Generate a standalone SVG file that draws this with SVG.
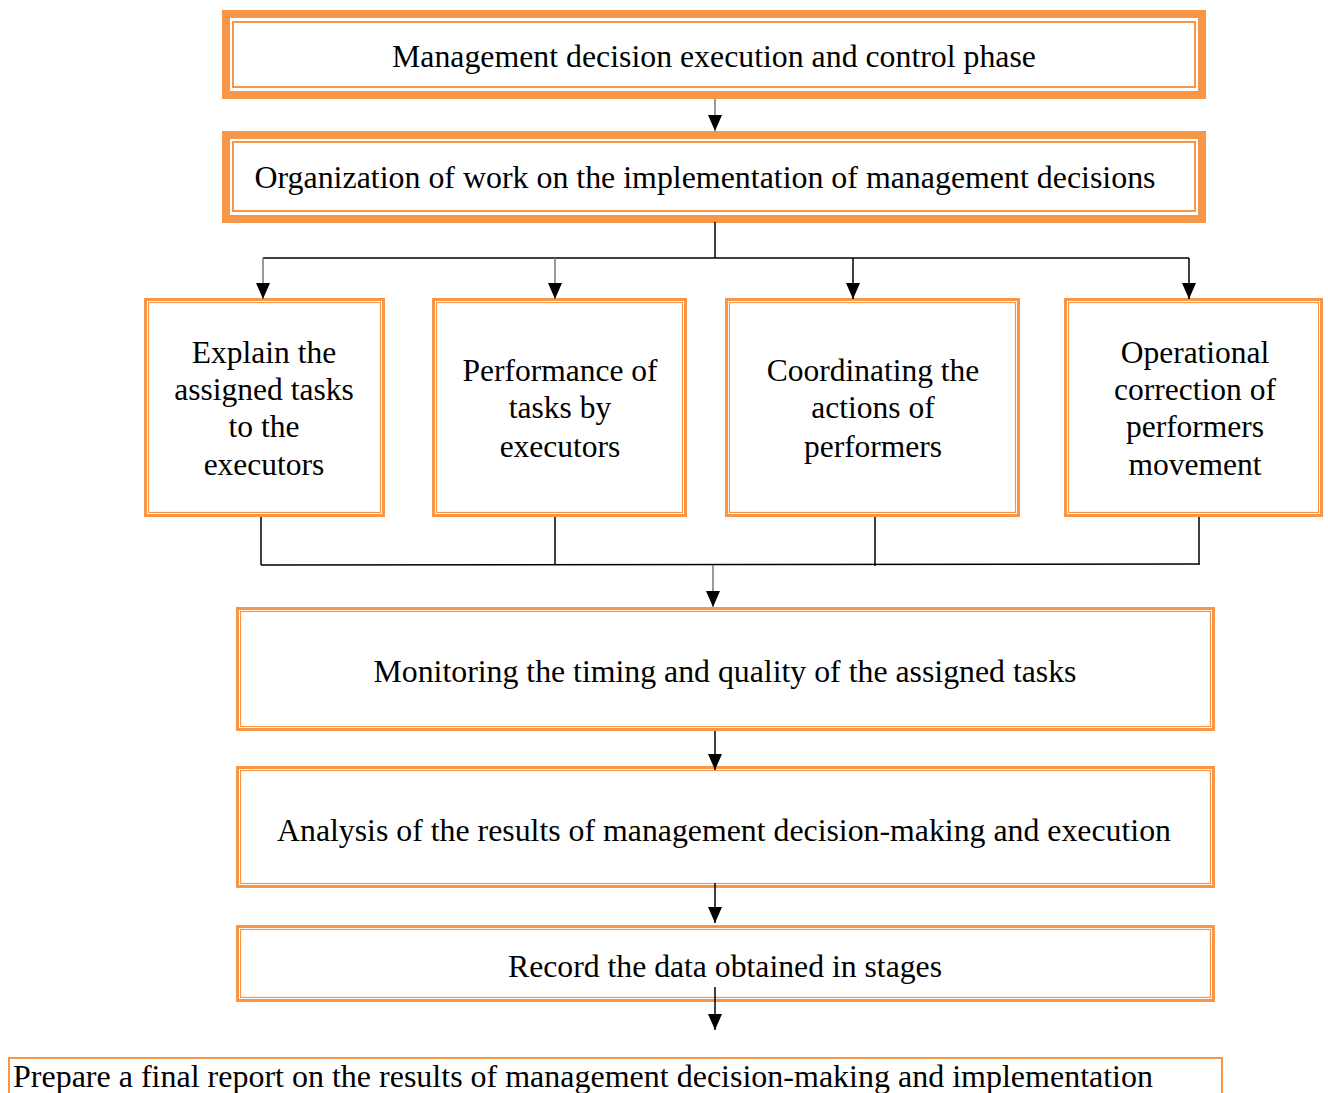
<svg xmlns="http://www.w3.org/2000/svg" width="1328" height="1093" viewBox="0 0 1328 1093">
<style>
.t{font-family:"Liberation Serif","Times New Roman",serif;font-size:31.5px;fill:#000;text-anchor:middle}
.band{fill:none;stroke:#F79646;stroke-width:8}
.thin{fill:none;stroke:#F79646;stroke-width:2}
.o3{fill:none;stroke:#F79646;stroke-width:3}
.i1{fill:none;stroke:#F79646;stroke-width:1.2}
.c{fill:none;stroke:#000;stroke-width:1.5}
.g{fill:none;stroke:#777;stroke-width:1.5}
</style>
<defs>
<marker id="ah" markerUnits="userSpaceOnUse" markerWidth="16" markerHeight="14" refX="16" refY="7" orient="auto">
<path d="M0,0 L16,7 L0,14 Z" fill="#000"/>
</marker>
</defs>
<rect width="1328" height="1093" fill="#fff"/>
<g id="n1">
<rect class="band" x="226" y="14" width="976" height="81"/>
<rect class="thin" x="233" y="22" width="962" height="65"/>
<text class="t" x="714" y="67" textLength="644" lengthAdjust="spacingAndGlyphs">Management decision execution and control phase</text>
</g>
<g id="n2">
<rect class="band" x="226" y="135" width="976" height="84"/>
<rect class="thin" x="233" y="142" width="962" height="69"/>
<text class="t" x="705" y="188" textLength="901" lengthAdjust="spacingAndGlyphs">Organization of work on the implementation of management decisions</text>
</g>
<g id="n3">
<rect class="o3" x="145.5" y="299.5" width="238" height="216"/>
<rect class="i1" x="148.5" y="302.5" width="232" height="210"/>
<text class="t" x="264" y="363">Explain the</text>
<text class="t" x="264" y="400">assigned tasks</text>
<text class="t" x="264" y="437">to the</text>
<text class="t" x="264" y="475">executors</text>
</g>
<g id="n4">
<rect class="o3" x="433.5" y="299.5" width="252" height="216"/>
<rect class="i1" x="436.5" y="302.5" width="246" height="210"/>
<text class="t" x="560" y="381">Performance of</text>
<text class="t" x="560" y="418">tasks by</text>
<text class="t" x="560" y="457">executors</text>
</g>
<g id="n5">
<rect class="o3" x="726.5" y="299.5" width="292" height="216"/>
<rect class="i1" x="729.5" y="302.5" width="286" height="210"/>
<text class="t" x="873" y="381">Coordinating the</text>
<text class="t" x="873" y="418">actions of</text>
<text class="t" x="873" y="457">performers</text>
</g>
<g id="n6">
<rect class="o3" x="1065.5" y="299.5" width="256" height="216"/>
<rect class="i1" x="1068.5" y="302.5" width="250" height="210"/>
<text class="t" x="1195" y="363">Operational</text>
<text class="t" x="1195" y="400">correction of</text>
<text class="t" x="1195" y="437">performers</text>
<text class="t" x="1195" y="475">movement</text>
</g>
<g id="n7">
<rect class="o3" x="237.5" y="608.5" width="976" height="121"/>
<rect class="i1" x="240.5" y="611.5" width="970" height="115"/>
<text class="t" x="725" y="682" textLength="703" lengthAdjust="spacingAndGlyphs">Monitoring the timing and quality of the assigned tasks</text>
</g>
<g id="n8">
<rect class="o3" x="237.5" y="767.5" width="976" height="119"/>
<rect class="i1" x="240.5" y="770.5" width="970" height="113"/>
<text class="t" x="724" y="841" textLength="894" lengthAdjust="spacingAndGlyphs">Analysis of the results of management decision-making and execution</text>
</g>
<g id="n9">
<rect class="o3" x="237.5" y="926.5" width="976" height="74"/>
<rect class="i1" x="240.5" y="929.5" width="970" height="68"/>
<text class="t" x="725" y="977" textLength="434" lengthAdjust="spacingAndGlyphs">Record the data obtained in stages</text>
</g>
<g id="n10">
<rect x="9" y="1058" width="1213" height="40" fill="none" stroke="#F79646" stroke-width="2"/>
<text class="t" x="13" y="1087" style="text-anchor:start" textLength="1140" lengthAdjust="spacingAndGlyphs">Prepare a final report on the results of management decision-making and implementation</text>
</g>
<g id="connectors">
<line class="g" x1="715" y1="99" x2="715" y2="131" marker-end="url(#ah)"/>
<line class="c" x1="715" y1="222" x2="715" y2="258"/>
<line class="c" x1="263" y1="258" x2="1189" y2="258"/>
<line class="g" x1="263" y1="258" x2="263" y2="299" marker-end="url(#ah)"/>
<line class="g" x1="555" y1="258" x2="555" y2="299" marker-end="url(#ah)"/>
<line class="c" x1="853" y1="258" x2="853" y2="299" marker-end="url(#ah)"/>
<line class="c" x1="1189" y1="258" x2="1189" y2="299" marker-end="url(#ah)"/>
<line class="c" x1="261" y1="517" x2="261" y2="565"/>
<line class="c" x1="555" y1="517" x2="555" y2="565"/>
<line class="c" x1="875" y1="517" x2="875" y2="566"/>
<line class="c" x1="1199" y1="517" x2="1199" y2="565"/>
<line class="c" x1="261" y1="565" x2="1199" y2="564"/>
<line class="g" x1="713" y1="565" x2="713" y2="607" marker-end="url(#ah)"/>
<line class="c" x1="715" y1="731" x2="715" y2="770" marker-end="url(#ah)"/>
<line class="c" x1="715" y1="883" x2="715" y2="923" marker-end="url(#ah)"/>
<line class="c" x1="715" y1="987" x2="715" y2="1030" marker-end="url(#ah)"/>
</g>
</svg>
